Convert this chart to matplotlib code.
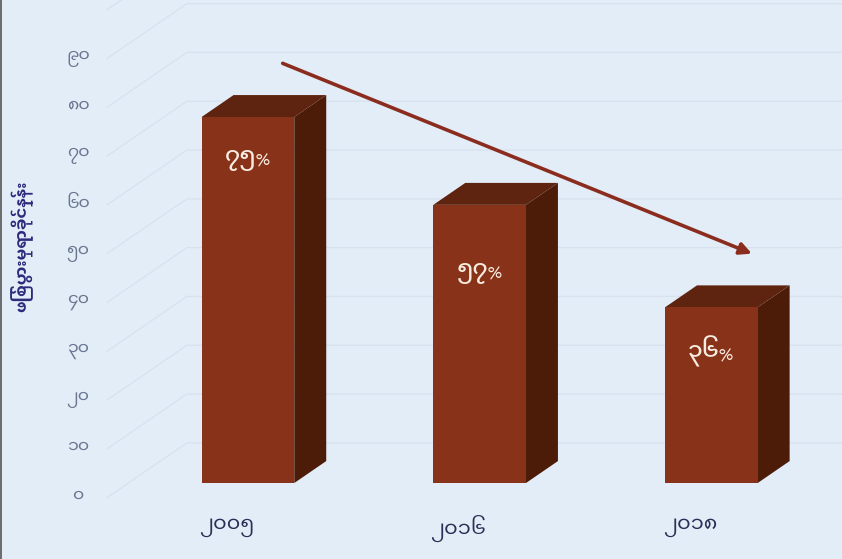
import numpy as np
import matplotlib.pyplot as plt
from matplotlib.patches import Polygon
from matplotlib.lines import Line2D

plt.rcParams['font.family'] = ['Noto Sans Myanmar UI', 'Padauk', 'DejaVu Sans']

years = ['၂၀၀၅', '၂၀၁၆', '၂၀၁၈']
values = [75, 57, 36]
bar_labels = ['၇၅%', '၅၇%', '၃၆%']
ytick_values = [0, 10, 20, 30, 40, 50, 60, 70, 80, 90]
ytick_labels = ['၀', '၁၀', '၂၀', '၃၀', '၄၀', '၅၀', '၆၀', '၇၀', '၈၀', '၉၀']
ylabel = 'ဖြစ်ပွားမှုရာခိုင်နှုန်း'

bg = '#e3edf8'
front_c = '#873219'
top_c = '#5e2410'
side_c = '#4c1c08'
grid_c = '#d8e2ee'

# oblique 3d look: one depth unit shifts x and value
DX, DV = 0.138, 4.5
W = 0.40
D_LABEL, D_BACK = -0.67, 1.83
X_WALL = -0.516


def proj(x, v, d):
    return x + d * DX, v + d * DV


fig = plt.figure(figsize=(8.42, 5.59), dpi=100, facecolor=bg)
ax = fig.add_axes([0, 0, 1, 1])
ax.set_facecolor(bg)
ax.set_xlim(-1.07, 2.564)
ax.set_ylim(-15.57, 98.98)
ax.axis('off')

# grid: left wall diagonals and back wall lines
for v in ytick_values + [100]:
    x0, y0 = proj(X_WALL, v, D_LABEL)
    x1, y1 = proj(X_WALL, v, D_BACK)
    ax.plot([x0, x1, 3], [y0, y1, y1], color=grid_c, lw=0.9, zorder=1)

for v, lab in zip(ytick_values, ytick_labels):
    x0, y0 = proj(X_WALL, v, D_LABEL)
    ax.text(x0 - 0.125, y0, lab, ha='center', va='center', fontsize=12.5,
            color='#6b7690')

# bars
for i, (val, lab) in enumerate(zip(values, bar_labels)):
    l, r = i - W / 2, i + W / 2
    front = [proj(l, 0, 0), proj(r, 0, 0), proj(r, val, 0), proj(l, val, 0)]
    top = [proj(l, val, 0), proj(r, val, 0), proj(r, val, 1), proj(l, val, 1)]
    side = [proj(r, 0, 0), proj(r, val, 0), proj(r, val, 1), proj(r, 0, 1)]
    ax.add_patch(Polygon(side, closed=True, fc=side_c, ec='none', zorder=3))
    ax.add_patch(Polygon(top, closed=True, fc=top_c, ec='none', zorder=3))
    ax.add_patch(Polygon(front, closed=True, fc=front_c, ec='none', zorder=4))

label_drop = [9, 14, 9]
for i, (val, lab, dr) in enumerate(zip(values, bar_labels, label_drop)):
    ax.text(i, val - dr, lab, ha='center', va='center', fontsize=17,
            color='#f8ece0', fontweight='medium', zorder=5)

for i, yr in enumerate(years):
    x0, y0 = proj(i, -6.2, D_LABEL)
    ax.text(x0, y0, yr, ha='center', va='center', fontsize=15, color='#2a2f55')

# trend arrow
ax.annotate('', xy=(2.175, values[-1] + 11), xytext=(0.15, values[0] + 11),
            arrowprops=dict(arrowstyle='-|>,head_length=0.7,head_width=0.35',
                            color='#8b2d1e', lw=2.6, shrinkA=0, shrinkB=0),
            zorder=6)

fig.text(0.026, 0.56, ylabel, rotation=90, ha='center', va='center',
         fontsize=12, color='#2d2a7c', fontweight='bold')

fig.add_artist(Line2D([0.001, 0.001], [0, 1], color='#555555', lw=1.2,
                      transform=fig.transFigure))

fig.savefig('out.png', dpi=100, facecolor=bg)
